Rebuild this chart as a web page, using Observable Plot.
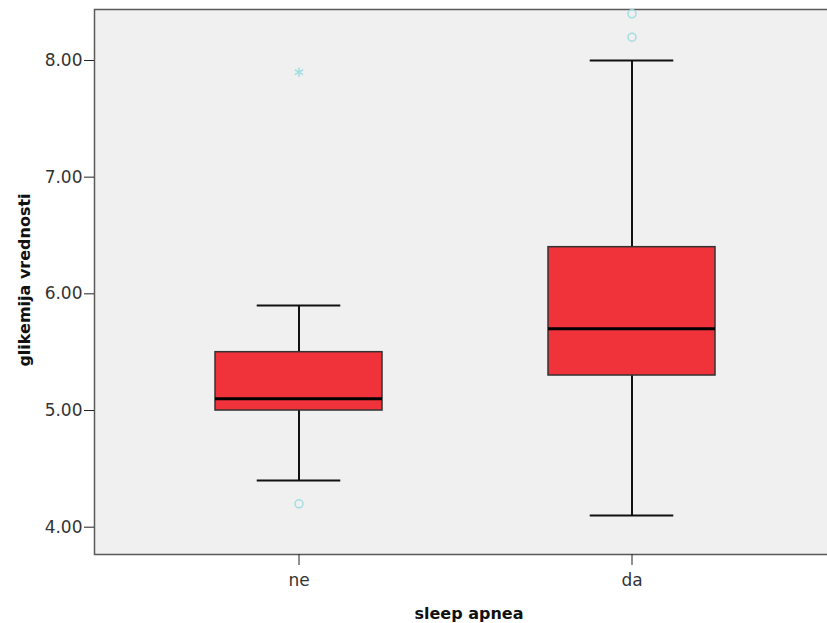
<!DOCTYPE html>
<html>
<head>
<meta charset="utf-8">
<script src="https://cdn.jsdelivr.net/npm/d3@7"></script>
<script src="https://cdn.jsdelivr.net/npm/@observablehq/plot@0.6"></script>
<style>
  html, body { margin: 0; padding: 0; background: #fff; overflow: hidden; }
  #chart { width: 827px; height: 623px; overflow: hidden; }
  #chart svg { max-width: none !important; height: 623px !important; width: 835px !important; }
</style>
</head>
<body>
<div id="chart"></div>
<script>
// Categories and box statistics
const groups = ["ne", "da"];
const lowWhisker = [4.4, 4.1];
const q1 = [5.0, 5.3];
const median = [5.1, 5.7];
const q3 = [5.5, 6.4];
const highWhisker = [5.9, 8.0];

// Outliers (circles) and extremes (stars)
const outlierGroup = ["ne", "da", "da"];
const outlierValue = [4.2, 8.2, 8.4];
const extremeGroup = ["ne"];
const extremeValue = [7.9];

// Axis ticks and titles
const yTicks = [4, 5, 6, 7, 8];
const yDomain = [3.766, 8.437];
const xTitle = "sleep apnea";
const yTitle = "glikemija vrednosti";

const boxes = groups.map((g, i) => ({
  group: g, lo: lowWhisker[i], q1: q1[i], med: median[i], q3: q3[i], hi: highWhisker[i]
}));
const outliers = outlierGroup.map((g, i) => ({group: g, value: outlierValue[i]}));
const extremes = extremeGroup.map((g, i) => ({group: g, value: extremeValue[i]}));

const W = 835, H = 623;
const mL = 94, mT = 9, mB = 69;
const step = (W - mL) / (1.5 + 0.72);
const bw = step * 0.5;

const chart = Plot.plot({
  width: W,
  height: H,
  marginLeft: mL,
  marginRight: 0,
  marginTop: mT,
  marginBottom: mB,
  style: {fontFamily: "DejaVu Sans", fontSize: "17px", color: "#333", background: "#fff"},
  x: {type: "band", domain: groups, paddingInner: 0.5, paddingOuter: 0.36, label: null},
  y: {domain: yDomain, label: null},
  marks: [
    Plot.frame({fill: "#f0f0f0", stroke: "#5a5a5a", strokeWidth: 1.5}),
    Plot.axisY({ticks: yTicks, tickFormat: d3.format(".2f"), tickSize: 10, tickPadding: 2, fontSize: 17, stroke: "#222", label: null}),
    Plot.axisX({tickSize: 11, tickPadding: 8, fontSize: 17, stroke: "#222", label: null}),
    Plot.ruleX(boxes, {x: "group", y1: "lo", y2: "q1", stroke: "#111", strokeWidth: 2}),
    Plot.ruleX(boxes, {x: "group", y1: "q3", y2: "hi", stroke: "#111", strokeWidth: 2}),
    Plot.tickY(boxes, {x: "group", y: "lo", inset: bw / 4, stroke: "#111", strokeWidth: 2}),
    Plot.tickY(boxes, {x: "group", y: "hi", inset: bw / 4, stroke: "#111", strokeWidth: 2}),
    Plot.barY(boxes, {x: "group", y1: "q1", y2: "q3", fill: "#f0333b", stroke: "#333", strokeWidth: 1.5}),
    Plot.tickY(boxes, {x: "group", y: "med", stroke: "#000", strokeWidth: 3}),
    Plot.dot(outliers, {x: "group", y: "value", r: 4, stroke: "#a3dde2", strokeWidth: 1.5, fill: "none"}),
    Plot.dot(extremes, {x: "group", y: "value", r: 4.5, symbol: "asterisk", stroke: "#a3dde2", strokeWidth: 1.5}),
    Plot.text([xTitle], {frameAnchor: "bottom", text: d => d, dx: 4, dy: 59, fontWeight: "bold", fontSize: 16, fill: "#111", textAnchor: "middle", lineAnchor: "middle"}),
    Plot.text([yTitle], {frameAnchor: "left", text: d => d, rotate: -90, dx: -70, dy: -2, fontWeight: "bold", fontSize: 16, fill: "#111", textAnchor: "middle", lineAnchor: "middle"})
  ]
});
document.getElementById("chart").appendChild(chart);
</script>
</body>
</html>
